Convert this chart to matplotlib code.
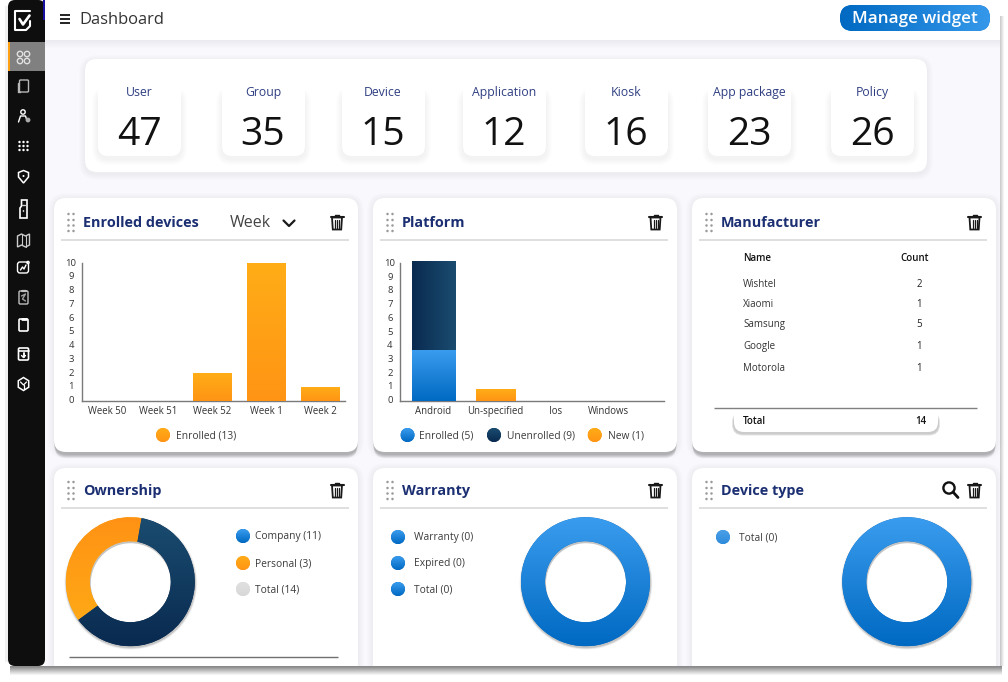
import numpy as np
import matplotlib
matplotlib.use("Agg")
import matplotlib.pyplot as plt
from matplotlib.colors import to_rgb
from matplotlib.patches import FancyBboxPatch, Rectangle, Circle, Wedge, Polygon
from matplotlib.transforms import ScaledTranslation
import matplotlib.patheffects as pe

plt.rcParams['font.family'] = ['Open Sans', 'Noto Sans', 'DejaVu Sans']

# ---------- data ----------
summary_labels = ["User", "Group", "Device", "Application", "Kiosk", "App package", "Policy"]
summary_values = [47, 35, 15, 12, 16, 23, 26]
week_labels = ["Week 50", "Week 51", "Week 52", "Week 1", "Week 2"]
week_enrolled = [0, 0, 2, 10, 1]
platform_labels = ["Android", "Un-specified", "Ios", "Windows"]
platform_enrolled = [3.7, 0, 0, 0]
platform_unenrolled = [6.5, 0, 0, 0]
platform_new = [0, 0.85, 0, 0]
y_ticks = list(range(0, 11))
manufacturer_names = ["Wishtel", "Xiaomi", "Samsung", "Google", "Motorola"]
manufacturer_counts = [2, 1, 5, 1, 1]
manufacturer_total = 14
ownership_labels = ["Company (11)", "Personal (3)", "Total (14)"]
ownership_shares = [5.3, 8.7]   # personal, company as drawn
warranty_labels = ["Warranty (0)", "Expired (0)", "Total (0)"]
device_labels = ["Total (0)"]
empty_ring = [1]

W, H = 1008, 682
NAVY = "#1b2f72"
LABEL = "#2f3f82"
TXT = "#3c3c3c"
BLUE_T, BLUE_B = "#3a9cee", "#0069c2"
OR_T, OR_B = "#ffad17", "#ff9414"
DK_T, DK_B = "#1a4c70", "#0a2a50"


def px(v):
    return v * 0.72


def grad(c0, c1, horizontal=False, n=128):
    a, b = np.array(to_rgb(c0)), np.array(to_rgb(c1))
    t = np.linspace(0, 1, n)[:, None]
    g = a + (b - a) * t
    return g[None, :, :] if horizontal else g[:, None, :]


fig = plt.figure(figsize=(W / 100, H / 100), dpi=100, facecolor="white")
bg = fig.add_axes([0, 0, 1, 1], zorder=0)
bg.set_xlim(0, W)
bg.set_ylim(H, 0)
bg.axis("off")
bg.autoscale(False)


def rbox(x, y, w, h, r, fc="white", ec="none", alpha=None, z=1, lw=0):
    p = FancyBboxPatch((x + r, y + r), w - 2 * r, h - 2 * r,
                       boxstyle=f"round,pad={r},rounding_size={r}",
                       fc=fc, ec=ec, alpha=alpha, zorder=z, lw=lw)
    bg.add_patch(p)
    return p


def shadow(x, y, w, h, r, spread=6, dy=2, alpha=0.012, z=1, col="#30305a"):
    for i in range(spread, 0, -1):
        rbox(x - i, y - i + dy, w + 2 * i, h + 2 * i, r + i, fc=col, alpha=alpha, z=z)


def T(x, y, s, size, color=TXT, ha="left", weight="normal", z=6, va="center"):
    return bg.text(x, y + size * 0.1, s, fontsize=px(size), color=color, ha=ha, va=va,
                   fontweight=weight, zorder=z)


def dot(cx, cy, r, c0, c1):
    c = Circle((cx, cy), r, fc=c1, ec="none", zorder=5)
    bg.add_patch(c)
    im = bg.imshow(grad(c0, c1), extent=(cx - r, cx + r, cy + r, cy - r),
                   aspect="auto", zorder=5, interpolation="bilinear")
    im.set_clip_path(c)


def line(xs, ys, c="white", lw=1.2, z=6, **kw):
    bg.plot(xs, ys, color=c, lw=lw, zorder=z, solid_capstyle=kw.get("cap", "round"))


def trash(cx, cy):
    c = "#1a1a1a"
    line([cx - 6.5, cx + 6.5], [cy - 5.5, cy - 5.5], c, 1.5)
    line([cx - 2, cx - 2, cx + 2, cx + 2], [cy - 5.5, cy - 7.5, cy - 7.5, cy - 5.5], c, 1.0)
    bg.add_patch(Polygon([(cx - 5, cy - 4.5), (cx + 5, cy - 4.5), (cx + 4.2, cy + 7.5), (cx - 4.2, cy + 7.5)],
                         closed=True, fc="white", ec=c, lw=1.3, zorder=6))
    for dx in (-2, 0, 2):
        line([cx + dx, cx + dx], [cy - 2.5, cy + 5.5], c, 0.9)


def grip(x, y):
    for dx in (0, 5):
        for dy in (0, 6, 11.5, 17):
            bg.add_patch(Circle((x + dx, y + dy), 1.25, fc="#9a9a9a", ec="none", zorder=6))


# ---------- window ----------
bg.add_patch(Rectangle((45, 40), 955, 630, fc="#f8f8fd", ec="none", zorder=0.5))
for i in range(8):
    bg.add_patch(Rectangle((45, 40 + i), 955, 1, fc="#707080", alpha=0.10 * (1 - i / 8), ec="none", zorder=0.7))
bg.add_patch(Rectangle((45, 0), 955, 40, fc="white", ec="none", zorder=0.8))
for i in range(4):
    bg.add_patch(Rectangle((1000 + i, 16), 1, 652, fc="#808080", alpha=0.38 * (1 - i / 4), ec="none", zorder=0.9))

# summary panel
shadow(85, 59, 842, 113, 12, spread=6, dy=2, alpha=0.007)
rbox(85, 59, 842, 113, 12)
card_x = [98, 222, 342, 463, 585, 708, 831]
for x, lab, val in zip(card_x, summary_labels, summary_values):
    shadow(x, 90, 83, 66, 10, spread=6, dy=3, alpha=0.008, z=1.1)
    rbox(x, 70, 83, 86, 10, z=1.2)
    T(x + 41, 91, lab, 12.3, LABEL, ha="center")
    T(x + 41, 131, str(val), 39, "#111111", ha="center")

# widget cards
cols = [54, 373, 692]
for x in cols:
    for y, h in ((198, 254), (468, 230)):
        shadow(x, y, 304, h, 12, spread=6, dy=1, alpha=0.007, z=1.3)
        if y == 198:
            for i in range(4):
                rbox(x + 0.5, y + 3, 303, h + i, 12, fc="#505050", alpha=0.11, z=1.35)
        rbox(x, y, 304, h, 12, z=1.4)

titles = [(83, 222, "Enrolled devices"), (402, 222, "Platform"), (721, 222, "Manufacturer"),
          (83, 490, "Ownership"), (402, 490, "Warranty"), (721, 490, "Device type")]
for tx, ty, s in titles:
    T(tx, ty - 0.5, s, 14.4, NAVY, weight="bold")
    grip(tx - 14.5, ty - 8)
    sep = ty + 17.5
    line([tx - 22, tx + 266], [sep, sep], "#d6d6d6", 1.1, z=3, cap="butt")

for cx, cy in ((337, 222), (655.5, 222), (974.5, 222), (337, 490), (655.5, 490), (974.5, 490)):
    trash(cx, cy)

# search icon
bg.add_patch(Circle((949, 488), 5.6, fc="none", ec="#111111", lw=1.7, zorder=6))
line([953, 958], [492, 497.5], "#111111", 2)

# week selector
T(230, 221, "Week", 16, "#444444")
line([283.5, 289, 294.5], [220.5, 226, 220.5], "#1a1a1a", 1.6)

# header
for yy in (15, 19, 23):
    line([59.5, 70], [yy, yy], "#222222", 1.4, cap="butt")
T(79, 18, "Dashboard", 16.5, "#333333")
btn = rbox(840, 5, 150, 26, 13, fc=BLUE_B, z=3)
im = bg.imshow(grad(BLUE_B, "#3598ea", horizontal=True), extent=(840, 990, 31, 5), aspect="auto",
               zorder=3, interpolation="bilinear")
im.set_clip_path(btn)
T(915, 17, "Manage widget", 17, "white", ha="center", weight="semibold")

# manufacturer table
T(743, 258, "Name", 9.8, "#111111", weight="semibold")
T(915, 258, "Count", 9.8, "#111111", ha="center", weight="semibold")
for name, cnt, yy, cyy in zip(manufacturer_names, manufacturer_counts,
                              (284, 304, 323.5, 345.5, 367.5), (284, 304, 324, 346, 368)):
    T(743, yy, name, 9.8, "#333333")
    T(919, cyy, str(cnt), 9.8, "#222222", ha="center")
shadow(734, 412, 204, 20, 9, spread=2, dy=1.5, alpha=0.16, z=3, col="#555555")
rbox(734, 405, 204, 27, 10, z=3.2)
line([714, 977], [407.5, 407.5], "#808080", 1.0, cap="butt")
T(743, 421, "Total", 9.8, "#111111", weight="semibold")
T(921, 421, str(manufacturer_total), 9.8, "#111111", ha="center", weight="semibold")

# legends
dot(163, 435, 7, OR_T, OR_B)
T(176, 434.5, "Enrolled (13)", 10.2)
for cx, tx, s, c0, c1 in ((407.5, 419, "Enrolled (5)", BLUE_T, BLUE_B),
                          (494, 507, "Unenrolled (9)", DK_T, DK_B),
                          (594.7, 607.5, "New (1)", OR_T, OR_B)):
    dot(cx, 435, 7, c0, c1)
    T(tx, 434.5, s, 10.2)
for yy, s, c0, c1 in zip((536, 563, 589), ownership_labels,
                         (BLUE_T, OR_T, "#e0e0e0"), (BLUE_B, OR_B, "#d8d8d8")):
    dot(243, yy, 7, c0, c1)
    T(255, yy - 0.5, s, 10.2)
for yy, s in zip((537, 563, 589), warranty_labels):
    dot(398, yy, 7, BLUE_T, BLUE_B)
    T(414, yy - 0.5, s, 10.2)
dot(723, 537, 7, "#4aa0e8", "#2f8bdc")
T(739, 536.5, device_labels[0], 10.2)
line([69, 338], [656.5, 656.5], "#707070", 1.0, cap="butt")


# ---------- charts ----------
def axpx(x0, y0, x1, y1):
    a = fig.add_axes([x0 / W, 1 - y1 / H, (x1 - x0) / W, (y1 - y0) / H], zorder=2)
    a.patch.set_alpha(0)
    return a


def gbars(a, bars, c0, c1, horizontal=False):
    for b in bars:
        if b.get_height() <= 0:
            continue
        x, y, w, h = b.get_x(), b.get_y(), b.get_width(), b.get_height()
        b.set_path_effects([pe.SimplePatchShadow(offset=(0.5, -1), alpha=0.22, shadow_rgbFace="#333333"), pe.Normal()])
        im = a.imshow(grad(c0, c1, horizontal), extent=(x, x + w, y, y + h), aspect="auto",
                      zorder=3, interpolation="bilinear")
        im.set_clip_path(b)


def style(a, xlabels, xpos, ymax):
    a.set_ylim(0, ymax)
    a.set_yticks(y_ticks)
    a.set_xticks(xpos)
    a.set_xticklabels(xlabels)
    a.tick_params(axis="both", length=0, labelsize=px(9.6), labelcolor="#333333")
    a.tick_params(axis="y", pad=px(10.5), labelsize=px(9.5))
    a.tick_params(axis="x", pad=px(5.5))
    shift = ScaledTranslation(0, 1.0 / 100, fig.dpi_scale_trans)
    for t in a.get_yticklabels():
        t.set_ha("center")
        t.set_transform(t.get_transform() + shift)
    for s in ("top", "right"):
        a.spines[s].set_visible(False)
    for s in ("left", "bottom"):
        a.spines[s].set_color("#7a7a7a")
        a.spines[s].set_linewidth(1.0)
    a.spines["left"].set_bounds(0, 10)


# Enrolled devices
a1 = axpx(81.6, 263, 345, 400.7)
a1.autoscale(False)
a1.set_xlim(-0.415, 4.46)
x1 = np.arange(len(week_labels))
b1 = a1.bar(x1, week_enrolled, width=0.72, color=OR_B, zorder=2)
gbars(a1, b1, OR_T, OR_B)
style(a1, week_labels, [0.05, 1.0, 2.0, 3.0, 4.0], 10)
a1.set_xlim(-0.415, 4.46)

# Platform
a2 = axpx(400.3, 260.7, 664, 400.7)
a2.autoscale(False)
a2.set_xlim(-0.525, 3.69)
x2 = np.arange(len(platform_labels))
b_en = a2.bar(x2[:1], platform_enrolled[:1], width=0.69, color=BLUE_B, zorder=2)
b_un = a2.bar(x2[:1], platform_unenrolled[:1], width=0.69, bottom=platform_enrolled[:1], color=DK_B, zorder=2)
b_new = a2.bar(x2[1:], platform_new[1:], width=0.625, color=OR_B, zorder=2)
gbars(a2, b_en, BLUE_T, BLUE_B)
gbars(a2, b_un, DK_B, DK_T, horizontal=True)
gbars(a2, b_new, OR_T, OR_B)
style(a2, platform_labels, [0, 1, 1.95, 2.8], 10.2)
a2.set_xlim(-0.525, 3.69)


def donut(cx, cy, values, colors, start=90):
    R_out, R_in = 64.5, 40.5
    for i, al in ((2.0, 0.04), (1.4, 0.06), (0.9, 0.09), (0.4, 0.12)):
        bg.add_patch(Wedge((cx + 0.5, cy + 1.5), R_out + i, 0, 360, width=R_out + i - R_in + 0.5,
                           fc="#303030", alpha=al, ec="none", zorder=2))
    S = 66
    a = axpx(cx - S, cy - S, cx + S, cy + S)
    wedges, _ = a.pie(values, startangle=start, radius=1, counterclock=True,
                      wedgeprops={"width": (R_out - R_in) / R_out, "linewidth": 0},
                      colors=[c[1] for c in colors])
    a.set_xlim(-S / R_out, S / R_out)
    a.set_ylim(-S / R_out, S / R_out)
    a.autoscale(False)
    for w, (c0, c1) in zip(wedges, colors):
        im = a.imshow(grad(c0, c1), extent=(-1, 1, -1, 1), aspect="auto", zorder=3, interpolation="bilinear")
        im.set_clip_path(w)
    a.set_xlim(-S / R_out, S / R_out)
    a.set_ylim(-S / R_out, S / R_out)
    a.set_aspect("equal")


donut(130.3, 581.7, ownership_shares, [("#ff9214", "#ffae17"), (DK_T, DK_B)], start=80)
donut(585.5, 581.7, empty_ring, [(BLUE_T, BLUE_B)])
donut(906.8, 581.7, empty_ring, [(BLUE_T, BLUE_B)])

# ---------- window bottom mask ----------
bg.add_patch(Rectangle((0, 666), W, 16, fc="white", ec="none", zorder=8))
for i in range(9):
    bg.add_patch(Rectangle((10, 666 + i), 992, 1, fc="#8a8a8a", alpha=min(1, 1.05 * (1 - i / 9) ** 1.1), ec="none", zorder=8.1))

# ---------- sidebar ----------
for i in range(3):
    bg.add_patch(Rectangle((8 - i - 1, 6), 1, 656, fc="#909090", alpha=0.12, ec="none", zorder=8.5))
rbox(8, 0, 37, 666, 7, fc="#0e0e0e", z=9)
bg.add_patch(Rectangle((8, 42), 37, 29, fc="#808080", ec="none", zorder=9.1))
bg.add_patch(Rectangle((8, 42), 1.6, 29, fc="#ffa015", ec="none", zorder=9.2))
bg.add_patch(Rectangle((43, 0), 2, 20, fc="#1a10a0", ec="none", zorder=9.2))


def I(x, y, w, h, r=1.0, c="white", lw=1.0, fc="none"):
    p = FancyBboxPatch((x + r, y + r), w - 2 * r, h - 2 * r, boxstyle=f"round,pad={r},rounding_size={r}",
                       fc=fc, ec=c, lw=lw, zorder=10)
    bg.add_patch(p)


def L(xs, ys, c="white", lw=1.0):
    bg.plot(xs, ys, color=c, lw=lw, zorder=10, solid_capstyle="round")


def C(x, y, r, c="white", lw=1.0, fc="none"):
    bg.add_patch(Circle((x, y), r, fc=fc, ec=c, lw=lw, zorder=10))


cx = 23.5
# logo
L([30, 15, 15, 26, 30, 30], [11, 11, 30, 30, 26, 21], lw=1.5)
L([19.5, 23, 29.5], [19, 24.5, 15.5], lw=1.9)
# grid
for dx in (-3.5, 3.5):
    for dy in (-3.5, 3.5):
        C(cx + dx, 57.5 + dy, 2.7, c="#e0e0e0")
# tablet
I(cx - 4, 80, 9, 12, 1, c="#b8b8b8")
L([cx - 6, cx - 6, cx - 4], [83, 92, 92], c="#b8b8b8")
# user
C(cx - 0.5, 112, 2.2)
L([cx - 5, cx - 3, cx + 2, cx + 3], [122, 116, 116, 119])
C(cx + 4.5, 120, 1.7, c="#aaaaaa", fc="#aaaaaa")
# dots
for dx in (-4, 0, 4):
    for dy in (-4, 0, 4):
        C(cx + dx, 146 + dy, 1.2, c="white", fc="white", lw=0)
# shield
bg.add_patch(Polygon([(cx, 170.5), (cx + 5, 172.5), (cx + 5, 177), (cx, 183), (cx - 5, 177), (cx - 5, 172.5)],
                     closed=True, fc="none", ec="white", lw=1.1, zorder=10))
C(cx, 176, 1, c="white", fc="white", lw=0)
# phone
bg.add_patch(Polygon([(21.5, 200), (27, 200), (27, 218), (20, 218), (20, 208), (21.5, 206)],
                     closed=True, fc="none", ec="white", lw=1.2, zorder=10))
L([22, 25], [205, 205], c="#cccccc", lw=1)
C(23.5, 211, 0.8, c="white", fc="white", lw=0)
# map
bg.add_patch(Polygon([(cx - 6, 236), (cx - 2, 234), (cx + 2, 236), (cx + 6, 234), (cx + 6, 245), (cx + 2, 247),
                      (cx - 2, 245), (cx - 6, 247)], closed=True, fc="none", ec="#cccccc", lw=1.0, zorder=10))
L([cx - 2, cx - 2], [234, 245], c="#cccccc", lw=0.8)
L([cx + 2, cx + 2], [236, 247], c="#cccccc", lw=0.8)
# chart
I(cx - 6, 262, 11, 11, 2.5)
L([cx - 3, cx - 1, cx + 0.5, cx + 2.5], [270, 267, 269, 265])
C(cx + 4.5, 262.5, 1.1)
# clipboard 1
I(cx - 4.5, 291, 9, 13, 1.2, c="#c0c0c0")
L([cx - 2, cx + 2, cx - 1, cx + 2], [296, 294, 299, 301], c="#a0a0a0")
L([cx - 2, cx + 2], [290.5, 290.5], c="#c0c0c0", lw=1.6)
# clipboard 2
I(cx - 4.5, 319, 9, 12, 1.2, lw=1.2)
L([cx - 2, cx + 2], [318.5, 318.5], lw=2)
# archive
I(cx - 5, 348, 10, 12, 1.2, lw=1.2)
L([cx - 5, cx + 5], [351, 351], lw=1.2)
L([cx, cx], [353, 357], lw=1.4)
L([cx - 2, cx, cx + 2], [355.5, 357.5, 355.5], lw=1)
# cube
hexa = [(cx + 6 * np.sin(t), 384 + 6.5 * np.cos(t)) for t in np.linspace(0, 2 * np.pi, 7)[:-1]]
bg.add_patch(Polygon(hexa, closed=True, fc="none", ec="white", lw=1.1, zorder=10))
L([cx - 3, cx, cx + 3], [382, 385, 382], lw=0.9)
L([cx, cx], [385, 389], lw=0.9)

fig.savefig("out.png", dpi=100, facecolor="white")
